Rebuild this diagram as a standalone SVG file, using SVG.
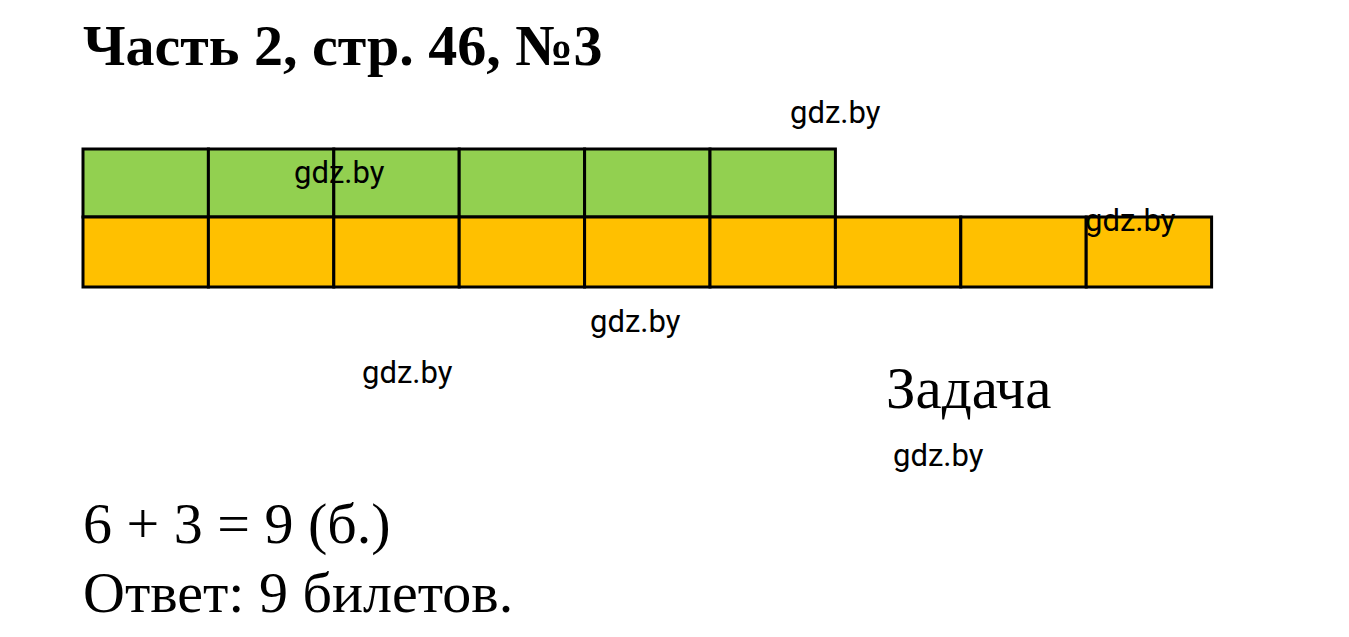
<svg xmlns="http://www.w3.org/2000/svg" width="1349" height="637" viewBox="0 0 1349 637">
<style>
.serif{font-family:"Liberation Serif","Times New Roman",serif;fill:#000}
.wm{font-family:Roboto,"Liberation Sans",sans-serif;font-size:31px;fill:#000}
.g{fill:#92D050;stroke:#000;stroke-width:3}
.o{fill:#FFC000;stroke:#000;stroke-width:3}
</style>
<rect width="1349" height="637" fill="#fff"/>
<text class="serif" x="83" y="65" font-size="58" font-weight="bold">Часть 2, стр. 46, №3</text>
<g id="green-row">
<rect class="g" x="83" y="149" width="125.4" height="68"/>
<rect class="g" x="208.4" y="149" width="125.4" height="68"/>
<rect class="g" x="333.8" y="149" width="125.4" height="68"/>
<rect class="g" x="459.2" y="149" width="125.4" height="68"/>
<rect class="g" x="584.6" y="149" width="125.4" height="68"/>
<rect class="g" x="710" y="149" width="125.4" height="68"/>
</g>
<g id="orange-row">
<rect class="o" x="83" y="217" width="125.4" height="70"/>
<rect class="o" x="208.4" y="217" width="125.4" height="70"/>
<rect class="o" x="333.8" y="217" width="125.4" height="70"/>
<rect class="o" x="459.2" y="217" width="125.4" height="70"/>
<rect class="o" x="584.6" y="217" width="125.4" height="70"/>
<rect class="o" x="710" y="217" width="125.4" height="70"/>
<rect class="o" x="835.4" y="217" width="125.4" height="70"/>
<rect class="o" x="960.8" y="217" width="125.4" height="70"/>
<rect class="o" x="1086.2" y="217" width="125.4" height="70"/>
</g>
<text class="serif" x="886" y="408" font-size="59">Задача</text>
<text class="serif" x="83" y="543" font-size="58">6 + 3 = 9 (б.)</text>
<text class="serif" x="83" y="612" font-size="58">Ответ: 9 билетов.</text>
<g id="watermarks">
<text class="wm" x="790" y="123">gdz.by</text>
<text class="wm" x="294" y="183">gdz.by</text>
<text class="wm" x="1085" y="231">gdz.by</text>
<text class="wm" x="590" y="332">gdz.by</text>
<text class="wm" x="362" y="383">gdz.by</text>
<text class="wm" x="893" y="466">gdz.by</text>
</g>
</svg>
